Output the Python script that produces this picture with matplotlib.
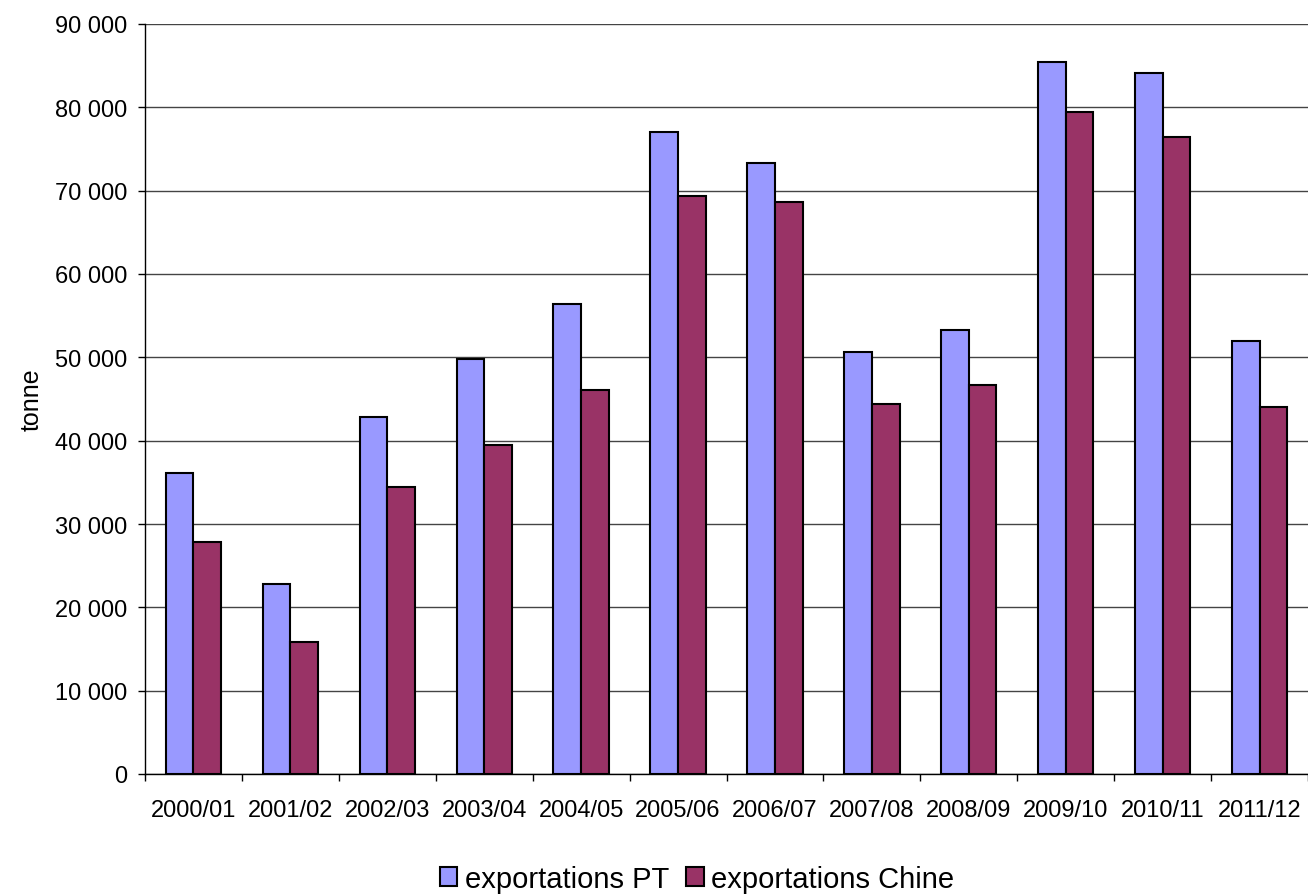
import numpy as np
import matplotlib.pyplot as plt
from matplotlib.ticker import FuncFormatter, FixedLocator

plt.rcParams['font.family'] = ['Liberation Sans', 'DejaVu Sans']

campaigns = ["2000/01", "2001/02", "2002/03", "2003/04", "2004/05", "2005/06",
             "2006/07", "2007/08", "2008/09", "2009/10", "2010/11", "2011/12"]
export_pt = [36100, 22800, 42800, 49800, 56400, 77000,
             73300, 50700, 53300, 85400, 84100, 52000]
export_cn = [27800, 15800, 34500, 39500, 46100, 69400,
             68700, 44400, 46700, 79400, 76400, 44100]

fig = plt.figure(figsize=(13.08, 8.95), dpi=100)
ax = fig.add_axes([145 / 1308, 1 - 775 / 895, (1308 - 145) / 1308, 750 / 895])

x = np.arange(len(campaigns))
w = 1 / 3.5  # excel gap width 150 %
ax.bar(x - w / 2, export_pt, w, color="#9999FF", edgecolor="black", linewidth=1.5,
       label="exportations PT", zorder=3)
ax.bar(x + w / 2, export_cn, w, color="#993366", edgecolor="black", linewidth=1.5,
       label="exportations Chine", zorder=3)

ax.set_xlim(-0.5, len(campaigns) - 0.5)
ax.set_ylim(0, 90000)
ax.set_yticks(np.arange(0, 90001, 10000))
ax.yaxis.set_major_formatter(FuncFormatter(lambda v, p: f"{int(v):,}".replace(",", " ")))
ax.grid(axis="y", color="#444444", linewidth=1, zorder=0)

ax.set_xticks(x)
ax.set_xticklabels(campaigns)
ax.xaxis.set_minor_locator(FixedLocator(np.arange(-0.5, len(campaigns), 1)))
ax.tick_params(axis="x", which="major", length=0, pad=18, labelsize=17)
ax.tick_params(axis="x", which="minor", length=5, width=1)
ax.tick_params(axis="y", length=5, width=1, labelsize=17, pad=8)

for side in ["top", "right"]:
    ax.spines[side].set_visible(False)
ax.spines["left"].set_linewidth(1)
ax.spines["bottom"].set_linewidth(1)

ax.set_ylabel("tonne", fontsize=18, labelpad=8)

fig.legend(loc="center", bbox_to_anchor=(697 / 1308, 1 - 880 / 895), ncol=2,
           frameon=False, fontsize=21, handlelength=0.6, handleheight=0.6,
           handletextpad=0.25, columnspacing=0.6)

fig.savefig("out.png", dpi=100)
